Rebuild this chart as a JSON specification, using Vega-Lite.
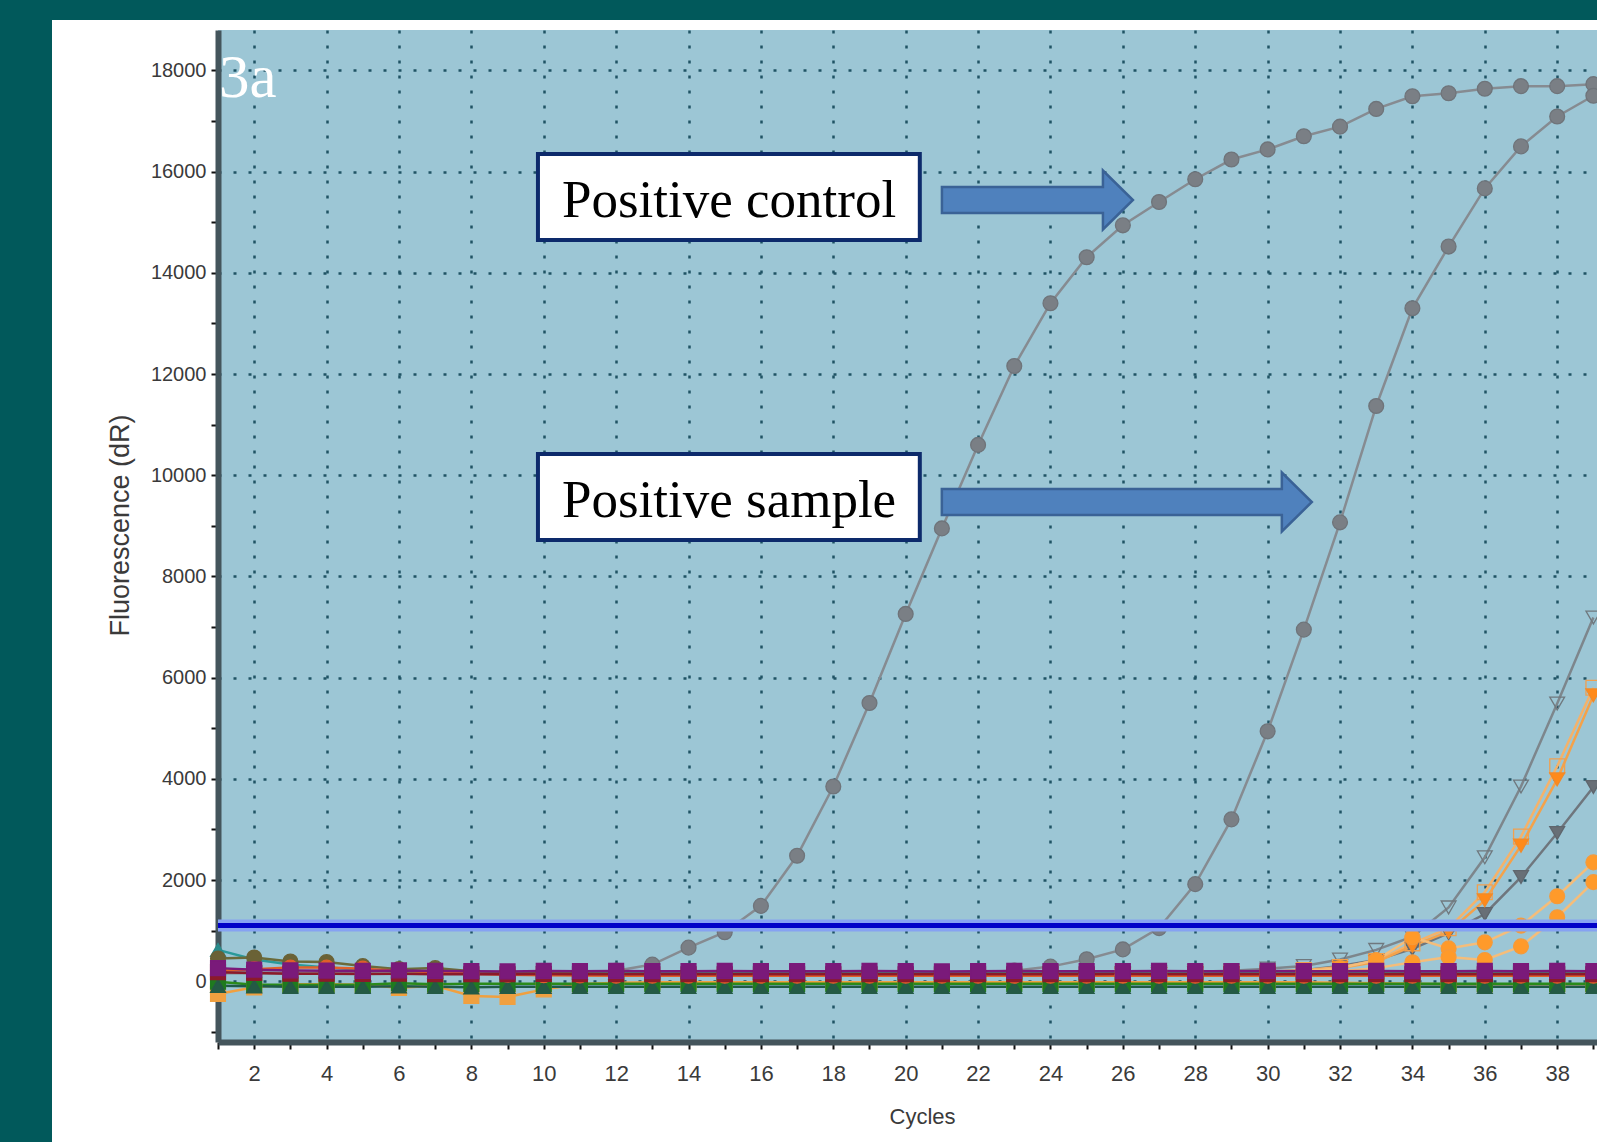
{
  "$schema": "https://vega.github.io/schema/vega-lite/v6.json",
  "padding": 0,
  "background": "white",
  "config": {"font": "Liberation Sans", "view": {"stroke": null}},
  "datasets": {
    "curves": [
      {"s":"ctrl","c":1,"v":180},{"s":"ctrl","c":2,"v":175},{"s":"ctrl","c":3,"v":165},{"s":"ctrl","c":4,"v":160},{"s":"ctrl","c":5,"v":155},{"s":"ctrl","c":6,"v":150},{"s":"ctrl","c":7,"v":150},{"s":"ctrl","c":8,"v":150},{"s":"ctrl","c":9,"v":150},{"s":"ctrl","c":10,"v":160},{"s":"ctrl","c":11,"v":170},{"s":"ctrl","c":12,"v":210},{"s":"ctrl","c":13,"v":330},{"s":"ctrl","c":14,"v":665},{"s":"ctrl","c":15,"v":970},{"s":"ctrl","c":16,"v":1490},{"s":"ctrl","c":17,"v":2480},{"s":"ctrl","c":18,"v":3850},{"s":"ctrl","c":19,"v":5500},{"s":"ctrl","c":20,"v":7260},{"s":"ctrl","c":21,"v":8950},{"s":"ctrl","c":22,"v":10600},{"s":"ctrl","c":23,"v":12160},{"s":"ctrl","c":24,"v":13400},{"s":"ctrl","c":25,"v":14310},{"s":"ctrl","c":26,"v":14940},{"s":"ctrl","c":27,"v":15400},{"s":"ctrl","c":28,"v":15850},{"s":"ctrl","c":29,"v":16240},{"s":"ctrl","c":30,"v":16440},{"s":"ctrl","c":31,"v":16700},{"s":"ctrl","c":32,"v":16890},{"s":"ctrl","c":33,"v":17240},{"s":"ctrl","c":34,"v":17490},{"s":"ctrl","c":35,"v":17550},{"s":"ctrl","c":36,"v":17640},{"s":"ctrl","c":37,"v":17690},{"s":"ctrl","c":38,"v":17690},{"s":"ctrl","c":39,"v":17730},
      {"s":"samp","c":1,"v":160},{"s":"samp","c":2,"v":160},{"s":"samp","c":3,"v":155},{"s":"samp","c":4,"v":150},{"s":"samp","c":5,"v":150},{"s":"samp","c":6,"v":150},{"s":"samp","c":7,"v":150},{"s":"samp","c":8,"v":150},{"s":"samp","c":9,"v":150},{"s":"samp","c":10,"v":150},{"s":"samp","c":11,"v":150},{"s":"samp","c":12,"v":150},{"s":"samp","c":13,"v":150},{"s":"samp","c":14,"v":150},{"s":"samp","c":15,"v":150},{"s":"samp","c":16,"v":150},{"s":"samp","c":17,"v":150},{"s":"samp","c":18,"v":155},{"s":"samp","c":19,"v":160},{"s":"samp","c":20,"v":165},{"s":"samp","c":21,"v":170},{"s":"samp","c":22,"v":180},{"s":"samp","c":23,"v":210},{"s":"samp","c":24,"v":290},{"s":"samp","c":25,"v":435},{"s":"samp","c":26,"v":630},{"s":"samp","c":27,"v":1050},{"s":"samp","c":28,"v":1920},{"s":"samp","c":29,"v":3200},{"s":"samp","c":30,"v":4940},{"s":"samp","c":31,"v":6950},{"s":"samp","c":32,"v":9070},{"s":"samp","c":33,"v":11370},{"s":"samp","c":34,"v":13300},{"s":"samp","c":35,"v":14520},{"s":"samp","c":36,"v":15670},{"s":"samp","c":37,"v":16500},{"s":"samp","c":38,"v":17090},{"s":"samp","c":39,"v":17500},
      {"s":"t_open","c":26,"v":150},{"s":"t_open","c":27,"v":170},{"s":"t_open","c":28,"v":190},{"s":"t_open","c":29,"v":210},{"s":"t_open","c":30,"v":250},{"s":"t_open","c":31,"v":300},{"s":"t_open","c":32,"v":430},{"s":"t_open","c":33,"v":620},{"s":"t_open","c":34,"v":880},{"s":"t_open","c":35,"v":1460},{"s":"t_open","c":36,"v":2450},{"s":"t_open","c":37,"v":3850},{"s":"t_open","c":38,"v":5490},{"s":"t_open","c":39,"v":7190},
      {"s":"t_fill","c":26,"v":130},{"s":"t_fill","c":27,"v":140},{"s":"t_fill","c":28,"v":150},{"s":"t_fill","c":29,"v":160},{"s":"t_fill","c":30,"v":180},{"s":"t_fill","c":31,"v":220},{"s":"t_fill","c":32,"v":300},{"s":"t_fill","c":33,"v":420},{"s":"t_fill","c":34,"v":640},{"s":"t_fill","c":35,"v":950},{"s":"t_fill","c":36,"v":1330},{"s":"t_fill","c":37,"v":2060},{"s":"t_fill","c":38,"v":2930},{"s":"t_fill","c":39,"v":3840},
      {"s":"o_sq","c":26,"v":140},{"s":"o_sq","c":27,"v":150},{"s":"o_sq","c":28,"v":160},{"s":"o_sq","c":29,"v":170},{"s":"o_sq","c":30,"v":190},{"s":"o_sq","c":31,"v":220},{"s":"o_sq","c":32,"v":280},{"s":"o_sq","c":33,"v":400},{"s":"o_sq","c":34,"v":750},{"s":"o_sq","c":35,"v":1050},{"s":"o_sq","c":36,"v":1760},{"s":"o_sq","c":37,"v":2860},{"s":"o_sq","c":38,"v":4250},{"s":"o_sq","c":39,"v":5800},
      {"s":"o_tri","c":26,"v":130},{"s":"o_tri","c":27,"v":140},{"s":"o_tri","c":28,"v":150},{"s":"o_tri","c":29,"v":160},{"s":"o_tri","c":30,"v":180},{"s":"o_tri","c":31,"v":210},{"s":"o_tri","c":32,"v":260},{"s":"o_tri","c":33,"v":380},{"s":"o_tri","c":34,"v":700},{"s":"o_tri","c":35,"v":980},{"s":"o_tri","c":36,"v":1600},{"s":"o_tri","c":37,"v":2680},{"s":"o_tri","c":38,"v":3990},{"s":"o_tri","c":39,"v":5650},
      {"s":"o_c1","c":26,"v":120},{"s":"o_c1","c":27,"v":130},{"s":"o_c1","c":28,"v":140},{"s":"o_c1","c":29,"v":150},{"s":"o_c1","c":30,"v":170},{"s":"o_c1","c":31,"v":200},{"s":"o_c1","c":32,"v":260},{"s":"o_c1","c":33,"v":420},{"s":"o_c1","c":34,"v":870},{"s":"o_c1","c":35,"v":650},{"s":"o_c1","c":36,"v":770},{"s":"o_c1","c":37,"v":1100},{"s":"o_c1","c":38,"v":1680},{"s":"o_c1","c":39,"v":2350},
      {"s":"o_c2","c":26,"v":110},{"s":"o_c2","c":27,"v":120},{"s":"o_c2","c":28,"v":130},{"s":"o_c2","c":29,"v":140},{"s":"o_c2","c":30,"v":150},{"s":"o_c2","c":31,"v":170},{"s":"o_c2","c":32,"v":200},{"s":"o_c2","c":33,"v":260},{"s":"o_c2","c":34,"v":375},{"s":"o_c2","c":35,"v":480},{"s":"o_c2","c":36,"v":420},{"s":"o_c2","c":37,"v":690},{"s":"o_c2","c":38,"v":1265},{"s":"o_c2","c":39,"v":1960},
      {"s":"b_teal","c":1,"v":620},{"s":"b_teal","c":2,"v":430},{"s":"b_teal","c":3,"v":330},{"s":"b_teal","c":4,"v":270},{"s":"b_teal","c":5,"v":230},{"s":"b_teal","c":6,"v":200},{"s":"b_teal","c":7,"v":190},{"s":"b_teal","c":8,"v":180},{"s":"b_teal","c":9,"v":175},{"s":"b_teal","c":10,"v":170},{"s":"b_teal","c":11,"v":170},{"s":"b_teal","c":12,"v":170},{"s":"b_teal","c":13,"v":170},{"s":"b_teal","c":14,"v":170},{"s":"b_teal","c":15,"v":170},{"s":"b_teal","c":16,"v":170},{"s":"b_teal","c":17,"v":170},{"s":"b_teal","c":18,"v":170},{"s":"b_teal","c":19,"v":170},{"s":"b_teal","c":20,"v":170},{"s":"b_teal","c":21,"v":170},{"s":"b_teal","c":22,"v":170},{"s":"b_teal","c":23,"v":170},{"s":"b_teal","c":24,"v":170},{"s":"b_teal","c":25,"v":170},{"s":"b_teal","c":26,"v":170},{"s":"b_teal","c":27,"v":170},{"s":"b_teal","c":28,"v":170},{"s":"b_teal","c":29,"v":170},{"s":"b_teal","c":30,"v":170},{"s":"b_teal","c":31,"v":170},{"s":"b_teal","c":32,"v":170},{"s":"b_teal","c":33,"v":170},{"s":"b_teal","c":34,"v":170},{"s":"b_teal","c":35,"v":170},{"s":"b_teal","c":36,"v":170},{"s":"b_teal","c":37,"v":170},{"s":"b_teal","c":38,"v":170},{"s":"b_teal","c":39,"v":170},
      {"s":"b_olive","c":1,"v":450},{"s":"b_olive","c":2,"v":470},{"s":"b_olive","c":3,"v":390},{"s":"b_olive","c":4,"v":380},{"s":"b_olive","c":5,"v":300},{"s":"b_olive","c":6,"v":240},{"s":"b_olive","c":7,"v":260},{"s":"b_olive","c":8,"v":200},{"s":"b_olive","c":9,"v":170},{"s":"b_olive","c":10,"v":160},{"s":"b_olive","c":11,"v":160},{"s":"b_olive","c":12,"v":150},{"s":"b_olive","c":13,"v":150},{"s":"b_olive","c":14,"v":150},{"s":"b_olive","c":15,"v":150},{"s":"b_olive","c":16,"v":150},{"s":"b_olive","c":17,"v":150},{"s":"b_olive","c":18,"v":150},{"s":"b_olive","c":19,"v":150},{"s":"b_olive","c":20,"v":150},{"s":"b_olive","c":21,"v":150},{"s":"b_olive","c":22,"v":150},{"s":"b_olive","c":23,"v":150},{"s":"b_olive","c":24,"v":150},{"s":"b_olive","c":25,"v":150},{"s":"b_olive","c":26,"v":150},{"s":"b_olive","c":27,"v":150},{"s":"b_olive","c":28,"v":150},{"s":"b_olive","c":29,"v":150},{"s":"b_olive","c":30,"v":150},{"s":"b_olive","c":31,"v":150},{"s":"b_olive","c":32,"v":150},{"s":"b_olive","c":33,"v":150},{"s":"b_olive","c":34,"v":150},{"s":"b_olive","c":35,"v":150},{"s":"b_olive","c":36,"v":150},{"s":"b_olive","c":37,"v":150},{"s":"b_olive","c":38,"v":150},{"s":"b_olive","c":39,"v":150},
      {"s":"b_orange","c":1,"v":-250},{"s":"b_orange","c":2,"v":-120},{"s":"b_orange","c":3,"v":-60},{"s":"b_orange","c":4,"v":-60},{"s":"b_orange","c":5,"v":-70},{"s":"b_orange","c":6,"v":-130},{"s":"b_orange","c":7,"v":-90},{"s":"b_orange","c":8,"v":-290},{"s":"b_orange","c":9,"v":-310},{"s":"b_orange","c":10,"v":-160},{"s":"b_orange","c":11,"v":-60},{"s":"b_orange","c":12,"v":-30},{"s":"b_orange","c":13,"v":-20},{"s":"b_orange","c":14,"v":-20},{"s":"b_orange","c":15,"v":-20},{"s":"b_orange","c":16,"v":-20},{"s":"b_orange","c":17,"v":-20},{"s":"b_orange","c":18,"v":-20},{"s":"b_orange","c":19,"v":-20},{"s":"b_orange","c":20,"v":-20},{"s":"b_orange","c":21,"v":-20},{"s":"b_orange","c":22,"v":-20},{"s":"b_orange","c":23,"v":-20},{"s":"b_orange","c":24,"v":-20},{"s":"b_orange","c":25,"v":-20},{"s":"b_orange","c":26,"v":-20},{"s":"b_orange","c":27,"v":-20},{"s":"b_orange","c":28,"v":-20},{"s":"b_orange","c":29,"v":-20},{"s":"b_orange","c":30,"v":-20},{"s":"b_orange","c":31,"v":-20},{"s":"b_orange","c":32,"v":-30},{"s":"b_orange","c":33,"v":-40},{"s":"b_orange","c":34,"v":-50},{"s":"b_orange","c":35,"v":-60},{"s":"b_orange","c":36,"v":-60},{"s":"b_orange","c":37,"v":-60},{"s":"b_orange","c":38,"v":-60},{"s":"b_orange","c":39,"v":-60},
      {"s":"b_green","c":1,"v":-10},{"s":"b_green","c":2,"v":-70},{"s":"b_green","c":3,"v":-70},{"s":"b_green","c":4,"v":-70},{"s":"b_green","c":5,"v":-70},{"s":"b_green","c":6,"v":-40},{"s":"b_green","c":7,"v":-60},{"s":"b_green","c":8,"v":-50},{"s":"b_green","c":9,"v":-50},{"s":"b_green","c":10,"v":-50},{"s":"b_green","c":11,"v":-50},{"s":"b_green","c":12,"v":-50},{"s":"b_green","c":13,"v":-50},{"s":"b_green","c":14,"v":-50},{"s":"b_green","c":15,"v":-50},{"s":"b_green","c":16,"v":-50},{"s":"b_green","c":17,"v":-50},{"s":"b_green","c":18,"v":-50},{"s":"b_green","c":19,"v":-50},{"s":"b_green","c":20,"v":-50},{"s":"b_green","c":21,"v":-50},{"s":"b_green","c":22,"v":-50},{"s":"b_green","c":23,"v":-50},{"s":"b_green","c":24,"v":-50},{"s":"b_green","c":25,"v":-50},{"s":"b_green","c":26,"v":-50},{"s":"b_green","c":27,"v":-50},{"s":"b_green","c":28,"v":-50},{"s":"b_green","c":29,"v":-50},{"s":"b_green","c":30,"v":-50},{"s":"b_green","c":31,"v":-50},{"s":"b_green","c":32,"v":-50},{"s":"b_green","c":33,"v":-50},{"s":"b_green","c":34,"v":-50},{"s":"b_green","c":35,"v":-50},{"s":"b_green","c":36,"v":-50},{"s":"b_green","c":37,"v":-50},{"s":"b_green","c":38,"v":-50},{"s":"b_green","c":39,"v":-50},
      {"s":"b_dark","c":1,"v":-90},{"s":"b_dark","c":2,"v":-100},{"s":"b_dark","c":3,"v":-110},{"s":"b_dark","c":4,"v":-110},{"s":"b_dark","c":5,"v":-110},{"s":"b_dark","c":6,"v":-100},{"s":"b_dark","c":7,"v":-110},{"s":"b_dark","c":8,"v":-120},{"s":"b_dark","c":9,"v":-110},{"s":"b_dark","c":10,"v":-110},{"s":"b_dark","c":11,"v":-110},{"s":"b_dark","c":12,"v":-110},{"s":"b_dark","c":13,"v":-110},{"s":"b_dark","c":14,"v":-110},{"s":"b_dark","c":15,"v":-110},{"s":"b_dark","c":16,"v":-110},{"s":"b_dark","c":17,"v":-110},{"s":"b_dark","c":18,"v":-110},{"s":"b_dark","c":19,"v":-110},{"s":"b_dark","c":20,"v":-110},{"s":"b_dark","c":21,"v":-110},{"s":"b_dark","c":22,"v":-110},{"s":"b_dark","c":23,"v":-110},{"s":"b_dark","c":24,"v":-110},{"s":"b_dark","c":25,"v":-110},{"s":"b_dark","c":26,"v":-110},{"s":"b_dark","c":27,"v":-110},{"s":"b_dark","c":28,"v":-110},{"s":"b_dark","c":29,"v":-110},{"s":"b_dark","c":30,"v":-110},{"s":"b_dark","c":31,"v":-110},{"s":"b_dark","c":32,"v":-110},{"s":"b_dark","c":33,"v":-110},{"s":"b_dark","c":34,"v":-110},{"s":"b_dark","c":35,"v":-110},{"s":"b_dark","c":36,"v":-110},{"s":"b_dark","c":37,"v":-110},{"s":"b_dark","c":38,"v":-110},{"s":"b_dark","c":39,"v":-110},
      {"s":"b_red","c":1,"v":210},{"s":"b_red","c":2,"v":240},{"s":"b_red","c":3,"v":270},{"s":"b_red","c":4,"v":270},{"s":"b_red","c":5,"v":250},{"s":"b_red","c":6,"v":210},{"s":"b_red","c":7,"v":180},{"s":"b_red","c":8,"v":150},{"s":"b_red","c":9,"v":130},{"s":"b_red","c":10,"v":120},{"s":"b_red","c":11,"v":115},{"s":"b_red","c":12,"v":110},{"s":"b_red","c":13,"v":110},{"s":"b_red","c":14,"v":110},{"s":"b_red","c":15,"v":110},{"s":"b_red","c":16,"v":110},{"s":"b_red","c":17,"v":110},{"s":"b_red","c":18,"v":110},{"s":"b_red","c":19,"v":110},{"s":"b_red","c":20,"v":110},{"s":"b_red","c":21,"v":110},{"s":"b_red","c":22,"v":110},{"s":"b_red","c":23,"v":110},{"s":"b_red","c":24,"v":110},{"s":"b_red","c":25,"v":110},{"s":"b_red","c":26,"v":110},{"s":"b_red","c":27,"v":110},{"s":"b_red","c":28,"v":110},{"s":"b_red","c":29,"v":110},{"s":"b_red","c":30,"v":110},{"s":"b_red","c":31,"v":110},{"s":"b_red","c":32,"v":110},{"s":"b_red","c":33,"v":110},{"s":"b_red","c":34,"v":110},{"s":"b_red","c":35,"v":110},{"s":"b_red","c":36,"v":110},{"s":"b_red","c":37,"v":110},{"s":"b_red","c":38,"v":110},{"s":"b_red","c":39,"v":110},
      {"s":"b_maroon","c":1,"v":180},{"s":"b_maroon","c":2,"v":165},{"s":"b_maroon","c":3,"v":150},{"s":"b_maroon","c":4,"v":150},{"s":"b_maroon","c":5,"v":145},{"s":"b_maroon","c":6,"v":150},{"s":"b_maroon","c":7,"v":140},{"s":"b_maroon","c":8,"v":140},{"s":"b_maroon","c":9,"v":140},{"s":"b_maroon","c":10,"v":145},{"s":"b_maroon","c":11,"v":140},{"s":"b_maroon","c":12,"v":140},{"s":"b_maroon","c":13,"v":140},{"s":"b_maroon","c":14,"v":140},{"s":"b_maroon","c":15,"v":140},{"s":"b_maroon","c":16,"v":140},{"s":"b_maroon","c":17,"v":140},{"s":"b_maroon","c":18,"v":140},{"s":"b_maroon","c":19,"v":140},{"s":"b_maroon","c":20,"v":140},{"s":"b_maroon","c":21,"v":140},{"s":"b_maroon","c":22,"v":140},{"s":"b_maroon","c":23,"v":140},{"s":"b_maroon","c":24,"v":140},{"s":"b_maroon","c":25,"v":140},{"s":"b_maroon","c":26,"v":145},{"s":"b_maroon","c":27,"v":140},{"s":"b_maroon","c":28,"v":140},{"s":"b_maroon","c":29,"v":140},{"s":"b_maroon","c":30,"v":140},{"s":"b_maroon","c":31,"v":140},{"s":"b_maroon","c":32,"v":140},{"s":"b_maroon","c":33,"v":140},{"s":"b_maroon","c":34,"v":140},{"s":"b_maroon","c":35,"v":140},{"s":"b_maroon","c":36,"v":140},{"s":"b_maroon","c":37,"v":140},{"s":"b_maroon","c":38,"v":140},{"s":"b_maroon","c":39,"v":140},
      {"s":"b_purple","c":1,"v":260},{"s":"b_purple","c":2,"v":230},{"s":"b_purple","c":3,"v":215},{"s":"b_purple","c":4,"v":210},{"s":"b_purple","c":5,"v":205},{"s":"b_purple","c":6,"v":215},{"s":"b_purple","c":7,"v":205},{"s":"b_purple","c":8,"v":200},{"s":"b_purple","c":9,"v":195},{"s":"b_purple","c":10,"v":205},{"s":"b_purple","c":11,"v":200},{"s":"b_purple","c":12,"v":205},{"s":"b_purple","c":13,"v":200},{"s":"b_purple","c":14,"v":200},{"s":"b_purple","c":15,"v":205},{"s":"b_purple","c":16,"v":200},{"s":"b_purple","c":17,"v":200},{"s":"b_purple","c":18,"v":200},{"s":"b_purple","c":19,"v":205},{"s":"b_purple","c":20,"v":200},{"s":"b_purple","c":21,"v":195},{"s":"b_purple","c":22,"v":200},{"s":"b_purple","c":23,"v":205},{"s":"b_purple","c":24,"v":200},{"s":"b_purple","c":25,"v":200},{"s":"b_purple","c":26,"v":200},{"s":"b_purple","c":27,"v":205},{"s":"b_purple","c":28,"v":200},{"s":"b_purple","c":29,"v":200},{"s":"b_purple","c":30,"v":205},{"s":"b_purple","c":31,"v":200},{"s":"b_purple","c":32,"v":200},{"s":"b_purple","c":33,"v":205},{"s":"b_purple","c":34,"v":200},{"s":"b_purple","c":35,"v":200},{"s":"b_purple","c":36,"v":205},{"s":"b_purple","c":37,"v":200},{"s":"b_purple","c":38,"v":205},{"s":"b_purple","c":39,"v":200}
    ],
    "thr": [{"v": 1100}],
    "boxes": [
      {"label": "Positive control", "x1": 9.84, "x2": 20.39, "y1": 14650, "y2": 16349, "tx": 15.12, "ty": 15104},
      {"label": "Positive sample", "x1": 9.84, "x2": 20.39, "y1": 8721, "y2": 10421, "tx": 15.12, "ty": 9176}
    ],
    "arrows": [
      {"a": "control", "x": 23.64, "y": 15440},
      {"a": "sample", "x": 26.11, "y": 9472}
    ],
    "tags": [{"t": "3a", "x": 1.03, "y": 17476}]
  },
  "spacing": 0,
  "bounds": "flush",
  "hconcat": [
    {
      "width": 52, "height": 1142,
      "view": {"fill": "#01595b", "stroke": null},
      "data": {"values": [{"k": 0}]},
      "mark": {"type": "text"},
      "encoding": {"text": {"value": ""}}
    },
    {
      "spacing": 10,
      "bounds": "flush",
      "vconcat": [
        {
          "width": 1545, "height": 20,
          "view": {"fill": "#01595b", "stroke": null},
          "data": {"values": [{"k": 0}]},
          "mark": {"type": "text"},
          "encoding": {"text": {"value": ""}}
        },
        {
          "spacing": 165,
          "bounds": "flush",
          "hconcat": [
            {
              "width": 1, "height": 10,
              "view": {"stroke": null},
              "data": {"values": [{"k": 0}]},
              "mark": {"type": "text"},
              "encoding": {"text": {"value": ""}}
            },
            {
              "width": 1379, "height": 1012,
              "view": {"fill": "#9cc6d5", "stroke": null},
              "layer": [
                {
                  "data": {"name": "curves"},
                  "mark": {"type": "line", "strokeWidth": 2.5},
                  "encoding": {
                    "x": {"field": "c", "type": "quantitative", "title": "Cycles",
                      "scale": {"domain": [1, 39.1], "nice": false, "zero": false},
                      "axis": {
                        "values": [1,2,3,4,5,6,7,8,9,10,11,12,13,14,15,16,17,18,19,20,21,22,23,24,25,26,27,28,29,30,31,32,33,34,35,36,37,38,39],
                        "tickCount": 200,
                        "format": "d",
                        "labelExpr": "datum.value % 2 === 0 ? datum.label : ''",
                        "labelFontSize": 22, "labelColor": "#3a3a3a", "labelPadding": 14, "labelFlush": false, "labelOverlap": false,
                        "tickSize": 7, "tickWidth": 2, "tickColor": "#111111",
                        "domainColor": "#44555c", "domainWidth": 6,
                        "grid": true, "gridColor": "#1f5364", "gridWidth": 2.5, "gridDash": [3, 12],
                        "gridOpacity": {"condition": {"test": "datum.value % 2 === 0", "value": 1}, "value": 0},
                        "titleFontSize": 22, "titleFontWeight": "normal", "titleColor": "#3a3a3a", "titleX": 704, "titleY": 64
                      }
                    },
                    "y": {"field": "v", "type": "quantitative", "title": "Fluorescence (dR)",
                      "scale": {"domain": [-1200, 18800], "nice": false, "zero": false},
                      "axis": {
                        "values": [-1000,0,1000,2000,3000,4000,5000,6000,7000,8000,9000,10000,11000,12000,13000,14000,15000,16000,17000,18000],
                        "tickCount": 200,
                        "format": "d",
                        "labelExpr": "datum.value % 2000 === 0 ? datum.label : ''",
                        "labelFontSize": 20, "labelColor": "#3a3a3a", "labelPadding": 5,
                        "tickSize": 7, "tickWidth": 2, "tickColor": "#111111",
                        "domainColor": "#44555c", "domainWidth": 6,
                        "grid": true, "gridColor": "#1f5364", "gridWidth": 2.5, "gridDash": [3, 12],
                        "gridOpacity": {"condition": {"test": "datum.value % 2000 === 0", "value": 1}, "value": 0},
                        "titleFontSize": 27, "titleFontWeight": "normal", "titleColor": "#3a3a3a", "titleX": -84, "titleY": 495
                      }
                    },
                    "detail": {"field": "s"},
                    "color": {"field": "s", "type": "nominal", "legend": null,
                      "scale": {
                        "domain": ["ctrl","samp","t_open","t_fill","o_sq","o_tri","o_c1","o_c2","b_teal","b_olive","b_orange","b_green","b_dark","b_red","b_maroon","b_purple"],
                        "range": ["#868b91","#868b91","#7d868c","#6f767d","#f4b26a","#f4a24a","#f5bd7a","#f5bd7a","#2a9a9a","#6a6a3a","#f0a040","#2a8a1a","#1f5a48","#e0602a","#8b1a2a","#7a1a7a"]
                      }
                    }
                  }
                },
                {
                  "data": {"name": "curves"},
                  "mark": {"type": "point", "opacity": 1, "strokeWidth": 1.3},
                  "encoding": {
                    "x": {"field": "c", "type": "quantitative", "title": "Cycles", "scale": {"domain": [1, 39.1], "nice": false, "zero": false}},
                    "y": {"field": "v", "type": "quantitative", "title": "Fluorescence (dR)", "scale": {"domain": [-1200, 18800], "nice": false, "zero": false}},
                    "shape": {"field": "s", "type": "nominal", "legend": null,
                      "scale": {
                        "domain": ["ctrl","samp","t_open","t_fill","o_sq","o_tri","o_c1","o_c2","b_teal","b_olive","b_orange","b_green","b_dark","b_red","b_maroon","b_purple"],
                        "range": ["circle","circle","triangle-down","triangle-down","square","triangle-down","circle","circle","triangle-up","circle","square","square","triangle-up","circle","square","square"]
                      }
                    },
                    "fill": {"field": "s", "type": "nominal", "legend": null,
                      "scale": {
                        "domain": ["ctrl","samp","t_open","t_fill","o_sq","o_tri","o_c1","o_c2","b_teal","b_olive","b_orange","b_green","b_dark","b_red","b_maroon","b_purple"],
                        "range": ["#7a7f85","#7a7f85","transparent","#686f76","transparent","#ff8a1a","#ff9a2a","#ff9a2a","#2a8a8a","#6a6236","#f0a040","#1f7a1f","#245a45","#e0602a","#8b1a2a","#7a1a7a"]
                      }
                    },
                    "stroke": {"field": "s", "type": "nominal", "legend": null,
                      "scale": {
                        "domain": ["ctrl","samp","t_open","t_fill","o_sq","o_tri","o_c1","o_c2","b_teal","b_olive","b_orange","b_green","b_dark","b_red","b_maroon","b_purple"],
                        "range": ["#6f747a","#6f747a","#6f787e","#5f666d","#f0a050","#f08a2a","#f59a3a","#f59a3a","#2a8a8a","#6a6236","#f0a040","#1f7a1f","#245a45","#e0602a","#8b1a2a","#7a1a7a"]
                      }
                    },
                    "size": {"field": "s", "type": "nominal", "legend": null,
                      "scale": {
                        "domain": ["ctrl","samp","t_open","t_fill","o_sq","o_tri","o_c1","o_c2","b_teal","b_olive","b_orange","b_green","b_dark","b_red","b_maroon","b_purple"],
                        "range": [220,220,190,190,160,160,170,170,120,130,110,130,130,80,80,70]
                      }
                    }
                  }
                },
                {
                  "data": {"name": "thr"},
                  "mark": {"type": "rule", "color": "#86a2f2", "strokeWidth": 12},
                  "encoding": {"y": {"field": "v", "type": "quantitative", "title": "Fluorescence (dR)", "scale": {"domain": [-1200, 18800], "nice": false, "zero": false}}}
                },
                {
                  "data": {"name": "thr"},
                  "mark": {"type": "rule", "color": "#0000c8", "strokeWidth": 5},
                  "encoding": {"y": {"field": "v", "type": "quantitative", "title": "Fluorescence (dR)", "scale": {"domain": [-1200, 18800], "nice": false, "zero": false}}}
                },
                {
                  "data": {"name": "boxes"},
                  "mark": {"type": "rect", "fill": "white", "stroke": "#0d2a6b", "strokeWidth": 4},
                  "encoding": {
                    "x": {"field": "x1", "type": "quantitative", "title": "Cycles", "scale": {"domain": [1, 39.1], "nice": false, "zero": false}},
                    "x2": {"field": "x2"},
                    "y": {"field": "y1", "type": "quantitative", "title": "Fluorescence (dR)", "scale": {"domain": [-1200, 18800], "nice": false, "zero": false}},
                    "y2": {"field": "y2"}
                  }
                },
                {
                  "data": {"name": "boxes"},
                  "mark": {"type": "text", "font": "Liberation Serif", "fontSize": 53, "color": "black", "align": "center", "baseline": "alphabetic"},
                  "encoding": {
                    "x": {"field": "tx", "type": "quantitative", "title": "Cycles", "scale": {"domain": [1, 39.1], "nice": false, "zero": false}},
                    "y": {"field": "ty", "type": "quantitative", "title": "Fluorescence (dR)", "scale": {"domain": [-1200, 18800], "nice": false, "zero": false}},
                    "text": {"field": "label"}
                  }
                },
                {
                  "data": {"name": "arrows"},
                  "transform": [{"filter": "datum.a === 'control'"}],
                  "mark": {"type": "point", "shape": "M-0.955,-0.13L0.655,-0.13L0.655,-0.295L0.955,0L0.655,0.295L0.655,0.13L-0.955,0.13Z", "size": 40000, "filled": true, "fill": "#4f81bd", "stroke": "#3a6296", "strokeWidth": 2.5, "opacity": 1},
                  "encoding": {
                    "x": {"field": "x", "type": "quantitative", "title": "Cycles", "scale": {"domain": [1, 39.1], "nice": false, "zero": false}},
                    "y": {"field": "y", "type": "quantitative", "title": "Fluorescence (dR)", "scale": {"domain": [-1200, 18800], "nice": false, "zero": false}}
                  }
                },
                {
                  "data": {"name": "arrows"},
                  "transform": [{"filter": "datum.a === 'sample'"}],
                  "mark": {"type": "point", "shape": "M-1.85,-0.13L1.55,-0.13L1.55,-0.295L1.85,0L1.55,0.295L1.55,0.13L-1.85,0.13Z", "size": 40000, "filled": true, "fill": "#4f81bd", "stroke": "#3a6296", "strokeWidth": 2.5, "opacity": 1},
                  "encoding": {
                    "x": {"field": "x", "type": "quantitative", "title": "Cycles", "scale": {"domain": [1, 39.1], "nice": false, "zero": false}},
                    "y": {"field": "y", "type": "quantitative", "title": "Fluorescence (dR)", "scale": {"domain": [-1200, 18800], "nice": false, "zero": false}}
                  }
                },
                {
                  "data": {"name": "tags"},
                  "mark": {"type": "text", "font": "Liberation Serif", "fontSize": 61, "color": "white", "align": "left", "baseline": "alphabetic"},
                  "encoding": {
                    "x": {"field": "x", "type": "quantitative", "title": "Cycles", "scale": {"domain": [1, 39.1], "nice": false, "zero": false}},
                    "y": {"field": "y", "type": "quantitative", "title": "Fluorescence (dR)", "scale": {"domain": [-1200, 18800], "nice": false, "zero": false}},
                    "text": {"field": "t"}
                  }
                }
              ]
            }
          ]
        }
      ]
    }
  ]
}
